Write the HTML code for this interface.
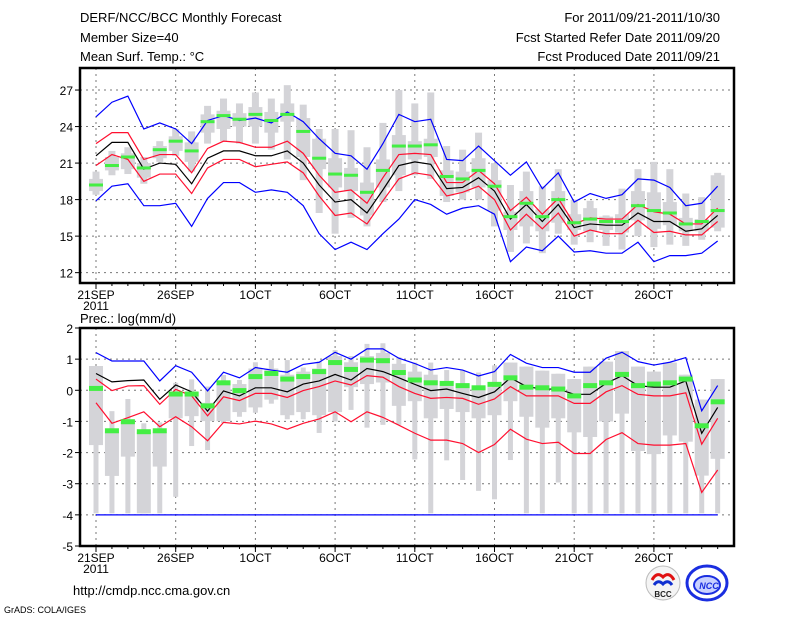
<!DOCTYPE html>
<html><head><meta charset="utf-8">
<style>
html,body{margin:0;padding:0;background:#fff;}
svg{display:block;font-family:"Liberation Sans","DejaVu Sans",sans-serif;}
</style></head>
<body>
<svg id="chart" width="800" height="618" viewBox="0 0 800 618">
<text x="80" y="22" font-size="13">DERF/NCC/BCC Monthly Forecast</text>
<text x="80" y="42" font-size="13">Member Size=40</text>
<text x="80" y="61" font-size="13">Mean Surf. Temp.: °C</text>
<text x="720" y="22" font-size="13" text-anchor="end">For 2011/09/21-2011/10/30</text>
<text x="720" y="42" font-size="13" text-anchor="end">Fcst Started Refer Date 2011/09/20</text>
<text x="720" y="61" font-size="13" text-anchor="end">Fcst Produced Date 2011/09/21</text>
<text x="80" y="323" font-size="13">Prec.: log(mm/d)</text>
<text x="73" y="595" font-size="13">http://cmdp.ncc.cma.gov.cn</text>
<text x="4" y="613" font-size="9">GrADS: COLA/IGES</text>
<g>
<circle cx="663" cy="583" r="17" fill="#f4f4f4" stroke="#bbb"/>
<path d="M652 580 q5 -9 11 -3 q6 -6 11 3" fill="none" stroke="#e01010" stroke-width="3"/>
<path d="M654 585 q4 -6 9 -1 q5 -5 9 1" fill="none" stroke="#1030d0" stroke-width="3"/>
<text x="663" y="597" font-size="8" font-weight="bold" text-anchor="middle" fill="#222">BCC</text>
</g>
<g>
<ellipse cx="707" cy="583" rx="20" ry="17" fill="#fff" stroke="#1a2ee0" stroke-width="3"/>
<ellipse cx="707" cy="585" rx="13" ry="9" fill="#c8d0ff" stroke="#1a2ee0" stroke-width="2"/>
<text x="709" y="589" font-size="9" font-weight="bold" font-style="italic" text-anchor="middle" fill="#1a2ee0">NCC</text>
</g>
</svg>
<script>
// ---- Top panel data (temperature °C), 40 days from 21SEP ----
const tempBlueUp=[24.8,26.0,26.5,23.8,24.3,23.8,22.6,24.5,24.9,24.5,24.7,24.3,25.2,24.4,23.0,21.8,21.6,20.5,22.6,25.0,24.4,24.6,21.3,21.2,22.4,21.2,20.0,21.1,18.9,20.2,17.8,18.5,18.1,18.4,19.7,19.6,19.0,17.5,17.7,19.1];
const tempRedUp=[22.6,23.5,23.5,21.3,21.7,21.7,20.2,22.2,22.8,22.7,22.3,22.3,22.8,21.8,20.0,18.6,18.8,17.7,19.8,21.7,21.8,21.7,19.4,19.4,20.4,19.3,17.1,18.2,16.8,18.1,16.0,16.5,16.4,16.4,17.6,17.0,16.8,16.0,16.0,17.3];
const tempMean=[21.6,22.7,22.7,20.5,21.0,20.9,19.3,21.4,22.0,22.0,21.6,21.6,22.0,21.0,19.2,17.8,18.0,16.9,18.8,20.8,21.1,20.9,18.9,19.0,19.8,18.7,16.4,17.6,16.2,17.6,15.7,16.0,15.9,15.9,16.9,16.2,16.2,15.4,15.6,16.7];
const tempRedLo=[20.8,21.7,21.3,19.5,20.1,20.1,18.5,20.6,21.3,21.3,20.7,20.9,21.1,20.2,18.3,16.7,16.9,16.0,17.9,19.7,20.2,20.0,18.3,18.6,19.1,18.0,15.5,16.8,15.6,16.9,15.0,15.5,15.2,15.2,16.3,15.3,15.4,15.1,15.1,16.2];
const tempBlueLo=[17.9,19.1,19.3,17.5,17.5,17.7,15.8,18.1,19.4,19.4,18.6,18.8,18.6,17.5,15.2,13.9,14.5,13.9,15.2,16.4,18.0,17.6,16.8,17.3,17.5,16.8,12.9,14.1,13.8,15.0,13.7,13.8,13.6,13.6,14.5,12.9,13.4,13.4,13.6,14.6];
const tempGreen=[19.2,20.8,21.5,20.6,22.1,22.8,22.0,24.4,24.9,24.6,25.0,24.5,25.0,23.6,21.4,20.1,20.0,18.6,20.4,22.4,22.4,22.5,19.9,19.7,20.4,19.1,16.6,17.7,16.6,18.0,16.1,16.4,16.2,16.2,17.5,17.1,16.9,16.0,16.2,17.1];
const tempMax=[20.3,22.0,22.3,21.5,22.8,23.8,23.6,25.7,26.3,25.9,26.8,26.3,27.4,25.8,23.8,23.8,23.7,22.3,24.3,27.0,25.9,26.8,22.4,22.1,23.5,21.0,19.2,20.3,19.1,20.5,18.0,17.9,16.7,18.9,20.5,21.1,20.5,18.5,18.2,20.2];
const tempQ3=[19.7,21.5,21.8,21.0,22.4,23.2,22.7,25.0,25.3,25.1,25.6,25.2,25.9,24.7,23.0,21.4,20.6,19.4,21.3,23.3,22.8,23.0,20.4,20.3,21.4,19.6,17.0,18.7,17.2,18.7,16.8,17.3,16.6,16.8,18.7,18.6,17.8,16.5,16.4,20.0];
const tempQ1=[18.7,20.4,20.5,19.8,21.4,22.0,21.1,23.5,23.8,24.0,24.0,23.5,24.4,21.5,20.5,19.0,18.7,16.7,19.0,20.0,21.3,21.5,18.3,18.6,19.0,17.1,15.5,15.8,15.4,16.1,15.5,15.4,15.5,15.3,16.3,15.6,15.9,15.4,15.4,15.7];
const tempMin=[18.4,20.0,20.1,19.3,21.1,21.6,20.3,22.6,22.8,22.6,22.6,22.1,21.3,19.6,16.9,15.2,16.5,15.8,17.8,18.7,20.0,19.7,17.8,18.0,18.0,15.8,13.7,14.4,13.6,15.2,14.3,14.5,14.2,13.9,15.0,14.1,14.3,14.2,14.7,15.4];
const tempTicks=[12,15,18,21,24,27];
// ---- Bottom panel data (precip log(mm/d)) ----
const precBlueUp=[1.21,0.94,0.94,0.94,0.30,0.79,0.58,-0.02,0.58,0.40,0.73,0.65,0.58,0.83,0.90,1.22,1.0,1.33,1.33,1.03,0.86,0.65,0.73,0.65,0.46,0.6,1.15,0.87,0.73,0.73,0.58,0.58,1.03,1.22,0.92,0.81,0.9,1.05,-0.66,0.15];
const precRedUp=[0.36,-0.01,0.14,0.15,-0.45,0.03,-0.18,-0.82,-0.21,-0.33,-0.10,-0.10,-0.23,-0.01,0.12,0.30,0.17,0.47,0.42,0.12,-0.10,-0.26,-0.23,-0.26,-0.45,-0.28,0.12,-0.18,-0.18,-0.18,-0.42,-0.42,-0.05,0.15,-0.13,-0.18,-0.18,-0.08,-1.73,-0.9];
const precMean=[0.54,0.27,0.31,0.33,-0.29,0.17,-0.05,-0.67,-0.02,-0.18,0.08,0.08,-0.05,0.20,0.30,0.51,0.33,0.70,0.60,0.40,0.19,-0.01,0.04,-0.1,-0.23,-0.05,0.4,0.12,0.04,0.04,-0.13,-0.13,0.22,0.47,0.15,0.1,0.1,0.3,-1.38,-0.55];
const precRedLo=[-0.40,-1.06,-0.88,-0.69,-1.17,-0.85,-1.17,-1.62,-1.03,-1.08,-0.99,-1.08,-1.25,-1.06,-0.92,-0.69,-1.01,-0.69,-0.87,-1.12,-1.38,-1.60,-1.6,-1.71,-2.0,-1.74,-1.25,-1.57,-1.71,-1.67,-2.03,-2.03,-1.58,-1.36,-1.71,-1.76,-1.76,-1.71,-3.28,-2.56];
const precBlueLo=[-4,-4,-4,-4,-4,-4,-4,-4,-4,-4,-4,-4,-4,-4,-4,-4,-4,-4,-4,-4,-4,-4,-4,-4,-4,-4,-4,-4,-4,-4,-4,-4,-4,-4,-4,-4,-4,-4,-4,-4];
const precGreen=[0.06,-1.30,-1.01,-1.33,-1.30,-0.12,-0.12,-0.5,0.24,-0.01,0.44,0.54,0.36,0.44,0.6,0.89,0.67,0.97,0.95,0.57,0.33,0.24,0.22,0.15,0.08,0.19,0.4,0.1,0.08,0.04,-0.18,0.15,0.24,0.51,0.15,0.2,0.24,0.36,-1.14,-0.37];
const precMax=[0.78,-0.67,-0.28,-1.06,-1.03,0.24,0.35,0.12,0.49,0.33,0.9,0.97,0.97,0.73,0.92,1.29,1.1,1.49,1.51,1.06,0.89,0.89,0.65,0.65,0.57,0.8,0.89,0.76,0.63,0.53,0.36,0.76,0.92,1.26,0.76,0.6,0.89,0.5,-0.3,0.36];
const precQ3=[0.78,-1.33,-0.95,-1.33,-1.33,-0.05,-0.07,-0.4,0.3,0.2,0.7,0.7,0.5,0.6,0.7,1.1,0.9,1.1,1.2,0.85,0.6,0.5,0.3,0.2,0.1,0.1,0.89,0.76,0.63,0.53,0.36,0.76,0.92,1.26,0.76,0.6,0.89,0.5,-0.3,0.36];
const precQ1=[-1.76,-2.75,-2.13,-3.95,-2.45,-0.9,-0.83,-0.99,-0.99,-0.7,-0.55,-0.3,-0.8,-0.7,-0.8,-0.7,0.1,0.2,0.25,-0.5,-0.35,-0.9,-0.6,-0.7,-0.9,-0.8,-0.35,-0.85,-1.2,-0.9,-1.35,-1.5,-1.0,-0.75,-1.95,-2.05,-1.45,-1.65,-2.74,-2.2];
const precMin=[-3.95,-3.95,-3.95,-3.95,-3.95,-3.42,-1.79,-1.92,-1.05,-0.85,-0.72,-0.43,-0.93,-0.93,-1.37,-1.0,-0.63,-1.2,-1.11,-1.11,-2.22,-3.95,-2.25,-2.88,-3.23,-3.5,-2.24,-3.95,-3.95,-2.96,-3.95,-3.95,-3.95,-3.95,-3.95,-3.95,-3.95,-3.95,-3.95,-3.95];
const precTicks=[-5,-4,-3,-2,-1,0,1,2];
const dateLabels=["21SEP","26SEP","1OCT","6OCT","11OCT","16OCT","21OCT","26OCT"];
const dateLabelDays=[0,5,10,15,20,25,30,35];

const NS="http://www.w3.org/2000/svg";
const svg=document.getElementById('chart');
function mk(tag,attrs,parent){const e=document.createElementNS(NS,tag);for(const k in attrs)e.setAttribute(k,attrs[k]);(parent||svg).appendChild(e);return e;}
const X0=80,X1=734,DAY0=96,DAYW=15.94;
function xDay(d){return DAY0+d*DAYW;}

function panel(cfg){
  const g=mk('g',{});
  
  
  const yv=v=>cfg.top+(cfg.vmax-v)*(cfg.bot-cfg.top)/(cfg.vmax-cfg.vmin);
  cfg.ticks.forEach(t=>{
    const y=yv(t);
    if(t>cfg.vmin&&t<cfg.vmax){const l=mk('line',{x1:X0,x2:X1,y1:y,y2:y,stroke:'#777','stroke-dasharray':'2,4','stroke-width':1},g);
    
    }
    mk('line',{x1:X0-5,x2:X0,y1:y,y2:y,stroke:'#000'},g);
    const tx=mk('text',{x:X0-7,y:y+5,'font-size':12,'text-anchor':'end'},g);
    tx.textContent=String(t);
    
    
  });
  dateLabelDays.forEach((d,i)=>{
    const x=xDay(d);
    const l=mk('line',{x1:x,x2:x,y1:cfg.top,y2:cfg.bot,stroke:'#777','stroke-dasharray':'2,4'},g);
    
    
    mk('line',{x1:x,x2:x,y1:cfg.bot,y2:cfg.bot+6,stroke:'#000'},g);
    const tx=mk('text',{x:x,y:cfg.bot+16,'font-size':12,'text-anchor':'middle'},g);
    tx.textContent=dateLabels[i];
    
    
  });
  const yr=mk('text',{x:DAY0,y:cfg.bot+27,'font-size':12,'text-anchor':'middle'},g);
  yr.textContent='2011';
  
  
  for(let d=0;d<40;d++){const x=xDay(d);mk('line',{x1:x,x2:x,y1:cfg.bot,y2:cfg.bot+3,stroke:'#000'},g);}
  for(let d=0;d<cfg.max.length;d++){
    const x=xDay(d);
    const w=mk('rect',{x:x-cfg.tw/2,y:yv(cfg.max[d]),width:cfg.tw,height:Math.max(1,yv(cfg.min[d])-yv(cfg.max[d])),fill:'#d4d4d8'},g);
    
    
    const b=mk('rect',{x:x-7,y:yv(cfg.q3[d]),width:14,height:Math.max(1,yv(cfg.q1[d])-yv(cfg.q3[d])),fill:'#d4d4d8'},g);
    
    
  }
  const lines=[[cfg.blueUp,'#0000ff','upper-blue-line'],[cfg.redUp,'#ff1030','upper-red-line'],[cfg.mean,'#000','ensemble-mean-line'],[cfg.redLo,'#ff1030','lower-red-line'],[cfg.blueLo,'#0000ff','lower-blue-line']];
  lines.forEach(([arr,col,nm])=>{
    const p=mk('polyline',{points:arr.map((v,d)=>xDay(d)+','+yv(v)).join(' '),fill:'none',stroke:col,'stroke-width':1.2},g);
    
    
  });
  for(let d=0;d<cfg.green.length;d++){
    const r=mk('rect',{x:xDay(d)-7,y:yv(cfg.green[d])-cfg.gh/2,width:14,height:cfg.gh,fill:'#44ee44'},g);
    
    
  }
  const f=mk('rect',{x:X0,y:cfg.top,width:X1-X0,height:cfg.bot-cfg.top,fill:'none',stroke:'#000','stroke-width':2.5},g);
  
  
}
panel({name:'temperature-panel',top:68,bot:283,vmin:11.15,vmax:28.81,ticks:tempTicks,
  blueUp:tempBlueUp,redUp:tempRedUp,mean:tempMean,redLo:tempRedLo,blueLo:tempBlueLo,green:tempGreen,
  max:tempMax,q3:tempQ3,q1:tempQ1,min:tempMin,tw:7,gh:3});
panel({name:'precipitation-panel',top:328,bot:546,vmin:-5,vmax:2,ticks:precTicks,
  blueUp:precBlueUp,redUp:precRedUp,mean:precMean,redLo:precRedLo,blueLo:precBlueLo,green:precGreen,
  max:precMax,q3:precQ3,q1:precQ1,min:precMin,tw:5,gh:5});
</script>
</body></html>
